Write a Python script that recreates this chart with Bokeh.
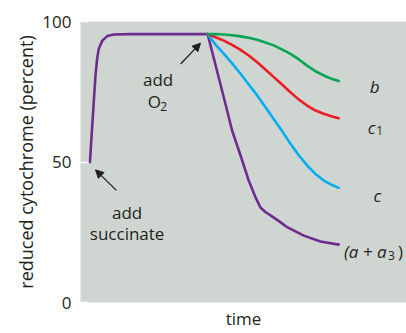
from bokeh.plotting import figure
from bokeh.models import Range1d, FixedTicker, Label, Arrow, NormalHead
from bokeh.embed import file_html
from bokeh.resources import INLINE

# ---- data (time in arbitrary units 0..100, reduced cytochrome in percent) ----
time_a = [2.9, 3.6, 4.6, 5.1, 5.6, 6.7, 8.2, 10.2, 15.3, 39.0, 44.2, 46.5, 49.1,
          51.6, 53.7, 55.2, 56.7, 58.3, 61.3, 63.4, 68.5, 73.6, 79.2]
reduced_a = [50.0, 63.0, 80.8, 86.7, 90.3, 93.2, 94.8, 95.4, 95.5, 95.5, 71.9, 61.2,
             52.3, 43.4, 37.4, 33.8, 32.2, 31.0, 28.6, 26.8, 23.8, 21.7, 20.6]

time_bc = [39.0, 41.4, 44.0, 46.5, 49.1, 51.6, 54.2, 56.7, 59.3, 61.9, 64.4, 67.0,
           69.5, 72.1, 74.6, 77.2, 79.2]
reduced_b = [95.5, 95.5, 95.4, 95.1, 94.7, 94.2, 93.5, 92.5, 91.5, 90.0, 88.5, 86.5,
             84.3, 82.3, 80.8, 79.5, 78.8]
reduced_c1 = [95.5, 94.4, 93.2, 91.7, 89.9, 87.9, 85.5, 82.9, 80.2, 77.5, 74.8, 72.2,
              70.1, 68.3, 67.2, 66.2, 65.6]
reduced_c = [95.5, 91.8, 88.5, 85.1, 81.4, 77.6, 73.7, 69.6, 65.2, 60.9, 56.5, 52.3,
             48.8, 45.7, 43.4, 41.8, 40.8]

y_ticks = [0, 50, 100]

# ---- styles ----
FONT = "Open Sans"
TXT = "#231f20"
BG = "#cfd6d2"
PURPLE = "#6e2c90"
GREEN = "#00a651"
RED = "#ee1c25"
BLUE = "#00adee"

p = figure(width=406, height=333, output_backend="svg", toolbar_location=None,
           x_range=Range1d(0, 100), y_range=Range1d(0, 100),
           min_border_left=80, min_border_right=0,
           min_border_top=21, min_border_bottom=31)
p.background_fill_color = BG
p.border_fill_color = "white"
p.outline_line_color = None
p.grid.visible = False

ax = p.yaxis[0]
ax.ticker = FixedTicker(ticks=y_ticks)
ax.axis_line_color = None
ax.major_tick_out = 0
ax.major_tick_in = 8
ax.major_tick_line_color = "white"
ax.major_tick_line_width = 1.5
ax.minor_tick_line_color = None
ax.major_label_standoff = 9
ax.major_label_text_font = FONT
ax.major_label_text_font_size = "17px"
ax.major_label_text_color = TXT
ax.axis_label = "reduced cytochrome (percent)"
ax.axis_label_text_font = FONT
ax.axis_label_text_font_size = "18px"
ax.axis_label_text_font_style = "normal"
ax.axis_label_text_color = TXT
ax.axis_label_standoff = 1

bx = p.xaxis[0]
bx.ticker = FixedTicker(ticks=[])
bx.axis_line_color = None
bx.major_tick_out = 0
bx.major_tick_in = 0
bx.major_tick_line_color = None
bx.minor_tick_line_color = None
bx.major_label_standoff = 0
bx.axis_label = "time"
bx.axis_label_text_font = FONT
bx.axis_label_text_font_size = "17px"
bx.axis_label_text_font_style = "normal"
bx.axis_label_text_color = TXT
bx.axis_label_standoff = 4

lw = 2.6
p.line(time_a, reduced_a, line_color=PURPLE, line_width=lw, line_join="round", line_cap="round")
p.line(time_bc, reduced_c, line_color=BLUE, line_width=lw, line_join="round", line_cap="round")
p.line(time_bc, reduced_c1, line_color=RED, line_width=lw, line_join="round", line_cap="round")
p.line(time_bc, reduced_b, line_color=GREEN, line_width=lw, line_join="round", line_cap="round")

def lab(x, y, text, size="17px", style="normal", align="left", baseline="alphabetic"):
    p.add_layout(Label(x=x, y=y, text=text, text_font=FONT, text_font_size=size,
                       text_font_style=style, text_color=TXT, text_align=align,
                       text_baseline=baseline))

# series labels
lab(88.7, 76.9, "b", style="italic")
lab(88.1, 62.4, "c", style="italic")
lab(90.7, 61.2, "1", size="12px")
lab(89.9, 38.1, "c", style="italic")
lab(80.8, 18.3, "(a + a", style="italic")
lab(94.3, 16.7, "3", size="12px")
lab(97.4, 18.3, ")")

# annotations
lab(14.3, 32.1, "add", align="center")
lab(14.3, 24.4, "succinate", align="center")
lab(23.8, 79.4, "add", align="center")
lab(20.6, 71.5, "O")
lab(24.5, 69.8, "2", size="12px")

head = dict(size=8, fill_color=TXT, line_color=TXT)
p.add_layout(Arrow(end=NormalHead(**head), x_start=30.7, y_start=84.9, x_end=36.8, y_end=92.3,
                   line_color=TXT, line_width=1.3))
p.add_layout(Arrow(end=NormalHead(**head), x_start=11.0, y_start=39.9, x_end=4.6, y_end=47.2,
                   line_color=TXT, line_width=1.3))

open("out.html", "w").write(file_html(p, INLINE))
